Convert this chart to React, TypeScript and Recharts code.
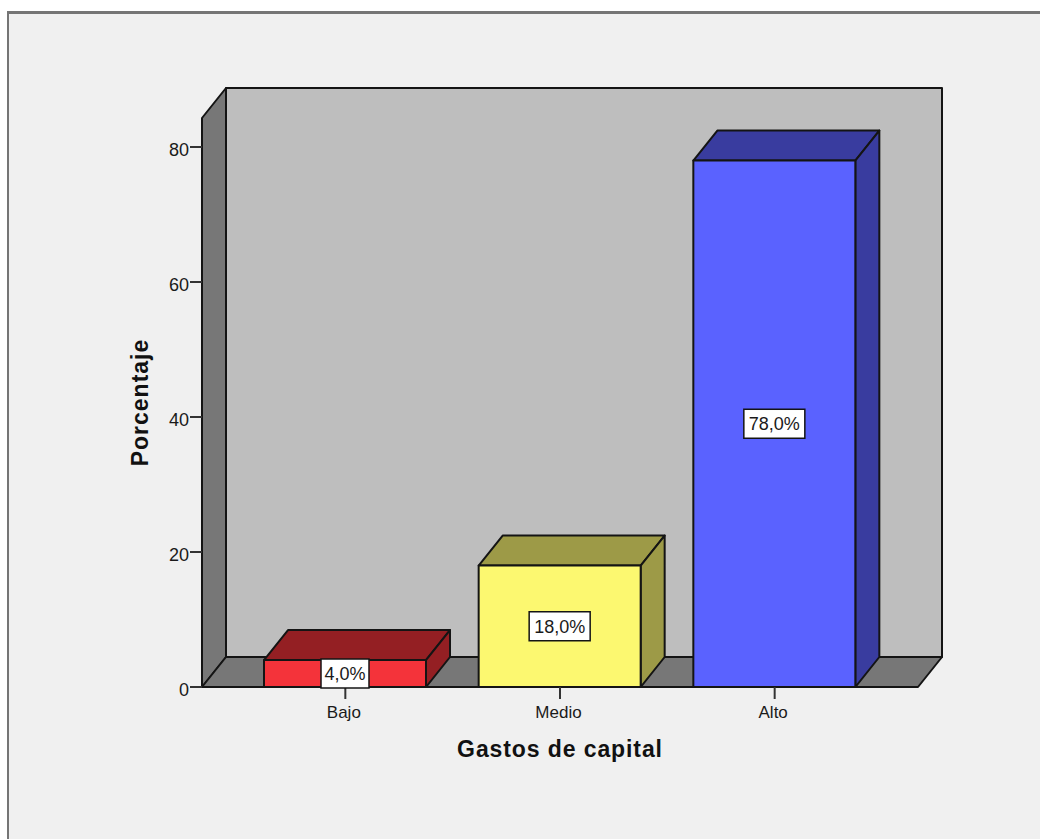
import { BarChart, Bar, XAxis, YAxis, ReferenceArea, LabelList } from "recharts";

const categories = ["Bajo", "Medio", "Alto"];
const percentages = [4, 18, 78];
const yTicks = [0, 20, 40, 60, 80];
const frontColors = ["#f4333a", "#fcf870", "#5a62ff"];
const sideColors = ["#941f23", "#9d9a47", "#393c9f"];

const data = categories.map((name, i) => ({ name, value: percentages[i] }));

const DX = 24;
const DY = 30;
const PAD = 36;
const INK = "#141414";
const FONT = "'Liberation Sans', Arial, sans-serif";

function Walls({ x: innerX, y, width: innerWidth, height }: any) {
  // the reference area stops at the axis padding, the walls go to the axis ends
  const x = innerX - PAD;
  const width = innerWidth + PAD * 2;
  const bottom = y + height;
  const right = x + width;
  return (
    <g stroke={INK} strokeWidth={2} strokeLinejoin="round">
      <rect x={x + DX} y={y - DY} width={width} height={height} fill="#bebebe" />
      <polygon
        points={`${x},${y} ${x + DX},${y - DY} ${x + DX},${bottom - DY} ${x},${bottom}`}
        fill="#777777"
      />
      <polygon
        points={`${x},${bottom} ${x + DX},${bottom - DY} ${right + DX},${bottom - DY} ${right},${bottom}`}
        fill="#777777"
      />
    </g>
  );
}

function Box3D({ x, y, width, height, index }: any) {
  const side = sideColors[index];
  const r = x + width;
  const b = y + height;
  return (
    <g stroke={INK} strokeWidth={2} strokeLinejoin="round">
      <polygon points={`${x},${y} ${x + DX},${y - DY} ${r + DX},${y - DY} ${r},${y}`} fill={side} />
      <polygon points={`${r},${y} ${r + DX},${y - DY} ${r + DX},${b - DY} ${r},${b}`} fill={side} />
      <rect x={x} y={y} width={width} height={height} fill={frontColors[index]} />
    </g>
  );
}

function PercentLabel({ x, y, width, height, value }: any) {
  const text = `${Number(value).toFixed(1).replace(".", ",")}%`;
  const w = text.length * 13 - 4;
  const cx = x + width / 2;
  const cy = y + height / 2;
  return (
    <g>
      <rect x={cx - w / 2} y={cy - 14.5} width={w} height={29} fill="#ffffff" stroke={INK} strokeWidth={1.5} />
      <text x={cx} y={cy + 6.5} textAnchor="middle" fontSize={18} fontFamily={FONT} fill="#1a1a1a">
        {text}
      </text>
    </g>
  );
}

export default function App() {
  return (
    <div style={{ position: "absolute", left: 0, top: 0, width: 1040, height: 839, background: "#ffffff", overflow: "hidden" }}>
      <div
        style={{
          position: "absolute",
          left: 7,
          top: 11,
          width: 1040,
          height: 840,
          background: "#f0f0f0",
          borderTop: "3px solid #757575",
          borderLeft: "2px solid #757575",
        }}
      />
      <div style={{ position: "absolute", left: 0, top: 0 }}>
        <BarChart
          width={1040}
          height={839}
          data={data}
          margin={{ top: 118, right: 122, bottom: 72, left: 122 }}
          barSize={162}
        >
          <ReferenceArea y1={0} y2={84.3} shape={<Walls />} ifOverflow="visible" />
          <XAxis
            dataKey="name"
            height={80}
            padding={{ left: PAD, right: PAD }}
            tickSize={12}
            tickMargin={4}
            axisLine={{ stroke: INK, strokeWidth: 2 }}
            tickLine={{ stroke: "#333333", strokeWidth: 2 }}
            tick={{ fill: "#1a1a1a", fontSize: 17, fontFamily: FONT, dy: 3, dx: -1.5 }}
            label={{
              value: "Gastos de capital",
              position: "insideBottom",
              offset: 10,
              fill: "#111111",
              fontSize: 23,
              fontWeight: 700,
              fontFamily: FONT,
              letterSpacing: 0.9,
            }}
          />
          <YAxis
            type="number"
            width={80}
            domain={[0, 84.3]}
            ticks={yTicks}
            allowDataOverflow
            tickSize={12}
            tickMargin={1}
            axisLine={{ stroke: INK, strokeWidth: 2 }}
            tickLine={{ stroke: "#333333", strokeWidth: 2 }}
            tick={{ fill: "#1a1a1a", fontSize: 18, fontFamily: FONT, dy: 3 }}
            label={{
              value: "Porcentaje",
              angle: -90,
              position: "insideLeft",
              offset: 18,
              textAnchor: "middle",
              fill: "#111111",
              fontSize: 23,
              fontWeight: 700,
              fontFamily: FONT,
              letterSpacing: 1,
            }}
          />
          <Bar dataKey="value" isAnimationActive={false} shape={<Box3D />}>
            <LabelList dataKey="value" content={<PercentLabel />} />
          </Bar>
        </BarChart>
      </div>
    </div>
  );
}
